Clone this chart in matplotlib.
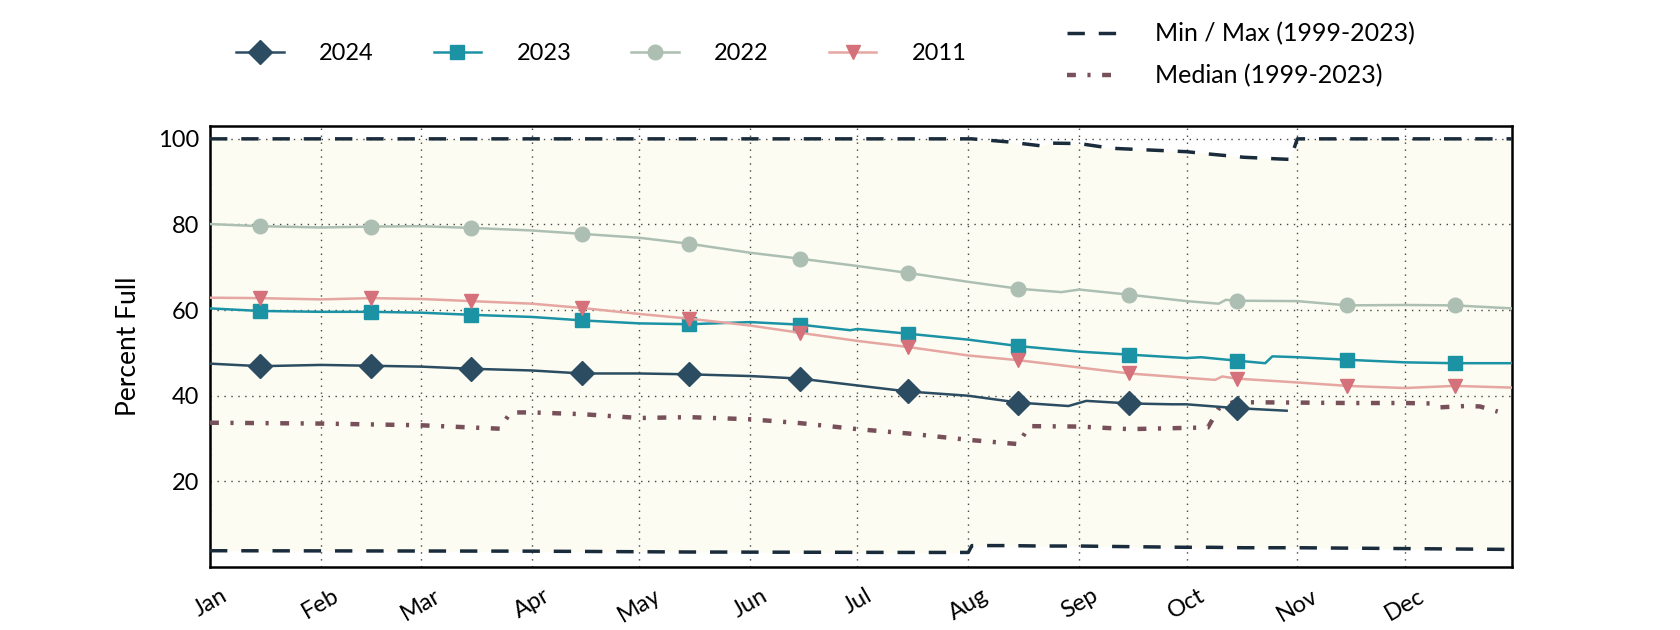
import numpy as np
import pandas as pd
import matplotlib
matplotlib.use('Agg')
import matplotlib.pyplot as plt
import matplotlib.dates as mdates

plt.rcParams['font.family'] = ['Lato', 'DejaVu Sans']

# dates are month-day, plotted on a 365-day calendar year
d2024 = ['01-01', '01-15', '02-01', '02-15', '03-01', '03-15', '04-01', '04-15',
         '05-01', '05-15', '06-01', '06-15', '07-01', '07-15', '08-01', '08-15',
         '08-29', '09-03', '09-15', '09-27', '10-01', '10-15', '10-29']
v2024 = [47.5, 46.9, 47.2, 47.0, 46.8, 46.3, 45.9, 45.2,
         45.2, 45.0, 44.6, 44.0, 42.4, 41.0, 40.0, 38.4,
         37.6, 38.8, 38.2, 38.0, 38.0, 37.1, 36.5]

d2023 = ['01-01', '01-15', '02-01', '02-15', '03-01', '03-15', '04-01', '04-15',
         '05-01', '05-15', '06-01', '06-15', '06-29', '07-01', '07-15', '08-01',
         '08-15', '09-01', '09-15', '10-01', '10-05', '10-15', '10-23', '10-25',
         '11-01', '11-15', '12-01', '12-15', '12-31']
v2023 = [60.4, 59.8, 59.6, 59.6, 59.4, 58.9, 58.4, 57.6,
         56.9, 56.7, 57.2, 56.6, 55.3, 55.6, 54.5, 53.1,
         51.6, 50.3, 49.6, 48.8, 49.0, 48.2, 47.6, 49.2,
         49.0, 48.4, 47.8, 47.6, 47.6]

d2022 = ['01-01', '01-15', '02-01', '02-15', '03-01', '03-15', '04-01', '04-15',
         '05-01', '05-15', '06-01', '06-15', '07-01', '07-15', '08-01', '08-15',
         '08-27', '09-01', '09-15', '10-01', '10-10', '10-12', '10-15', '11-01',
         '11-15', '12-01', '12-15', '12-31']
v2022 = [80.1, 79.6, 79.3, 79.5, 79.6, 79.2, 78.6, 77.8,
         76.9, 75.5, 73.4, 72.0, 70.3, 68.7, 66.6, 65.0,
         64.2, 64.8, 63.6, 62.1, 61.5, 62.4, 62.2, 62.1,
         61.1, 61.2, 61.1, 60.4]

d2011 = ['01-01', '01-15', '02-01', '02-15', '03-01', '03-15', '04-01', '04-15',
         '05-01', '05-15', '06-01', '06-15', '07-01', '07-15', '08-01', '08-15',
         '09-01', '09-15', '10-01', '10-09', '10-11', '10-15', '11-01', '11-15',
         '12-01', '12-15', '12-31']
v2011 = [62.9, 62.8, 62.5, 62.8, 62.6, 62.1, 61.5, 60.5,
         59.1, 58.0, 56.4, 54.7, 52.8, 51.4, 49.4, 48.3,
         46.6, 45.2, 44.2, 43.7, 44.5, 44.0, 43.1, 42.3,
         41.8, 42.3, 41.9]

d_med = ['01-01', '02-01', '03-01', '03-23', '03-26', '04-01', '04-15', '05-01',
         '05-15', '06-01', '06-15', '07-01', '07-15', '08-01', '08-15', '08-18',
         '09-01', '09-15', '10-07', '10-10', '10-14', '11-01', '11-15', '12-01',
         '12-08', '12-11', '12-18', '12-22', '12-27']
v_med = [33.7, 33.5, 33.1, 32.3, 36.1, 36.1, 35.7, 34.8,
         35.0, 34.5, 33.6, 32.2, 31.2, 29.7, 28.7, 32.9,
         32.8, 32.2, 32.6, 37.0, 38.5, 38.4, 38.3, 38.3,
         38.2, 37.3, 37.6, 37.5, 36.3]

d_mm = ['01-01', '04-01', '05-15', '07-15', '08-01', '08-02', '08-12', '08-21',
        '08-24', '09-01', '09-10', '10-01', '10-08', '10-17', '10-27', '10-30',
        '11-01', '12-01', '12-31']
v_max = [100, 100, 100, 100, 100, 100, 99.3, 98.4,
         99.0, 98.9, 97.8, 97.0, 96.4, 95.7, 95.3, 95.2,
         100, 100, 100]
v_min = [3.8, 3.7, 3.5, 3.4, 3.4, 5.0, 5.0, 4.9,
         4.9, 4.9, 4.8, 4.6, 4.6, 4.5, 4.5, 4.5,
         4.5, 4.3, 4.1]


def to_dates(md):
    return pd.to_datetime(['2023-' + s for s in md])


def mid_month(dates):
    return [i for i, d in enumerate(dates) if d.day == 15]


fig = plt.figure(figsize=(16.8, 6.3), dpi=100)
ax = fig.add_axes([0.125, 0.1, 0.775, 0.7])

x_mm = to_dates(d_mm)
ax.fill_between(x_mm, v_min, v_max, color='#fcfcf2', zorder=0, lw=0)
mm_line, = ax.plot(x_mm, v_max, color='#1a2b3c', lw=2.5, dashes=(5, 4), zorder=3)
ax.plot(x_mm, v_min, color='#1a2b3c', lw=2.5, dashes=(5, 4), zorder=3)

med_line, = ax.plot(to_dates(d_med), v_med, color='#77505a', lw=3.2,
                    linestyle=(0, (2.0, 2.6, 0.7, 2.6)), zorder=3)

series = [
    (d2024, v2024, '2024', '#2c4c62', '#2c4c62', 'D', 12),
    (d2023, v2023, '2023', '#1b93a5', '#1b93a5', 's', 10),
    (d2022, v2022, '2022', '#adbfb3', '#adbfb3', 'o', 10.5),
    (d2011, v2011, '2011', '#e6a6a1', '#d4717a', 'v', 10.5),
]
handles = []
for d, v, lab, lc, mc, mk, ms in series:
    x = to_dates(d)
    h, = ax.plot(x, v, color=lc, lw=1.8, marker=mk, markersize=ms,
                 markerfacecolor=mc, markeredgecolor=mc,
                 markevery=mid_month(x), label=lab, zorder=4)
    handles.append(h)

ax.set_xlim(pd.Timestamp('2023-01-01'), pd.Timestamp('2023-12-31'))
ax.set_ylim(0, 103)
ax.set_yticks([20, 40, 60, 80, 100])
ax.xaxis.set_major_locator(mdates.MonthLocator())
ax.xaxis.set_major_formatter(mdates.DateFormatter('%b'))
ax.tick_params(length=0, labelsize=17, pad=8)
ax.tick_params(axis='x', pad=13)
for t in ax.get_xticklabels():
    t.set_rotation(30)
    t.set_ha('center')
ax.grid(True, linestyle=(0, (1, 4)), color='#444444', lw=1)
ax.set_ylabel('Percent Full', fontsize=19, labelpad=12)
for s in ax.spines.values():
    s.set_linewidth(1.8)

fig.legend(handles=handles, loc='center left', bbox_to_anchor=(0.128, 0.915),
           ncol=4, frameon=False, fontsize=17, handlelength=2.0,
           handletextpad=1.5, columnspacing=2.55)
fig.legend([mm_line, med_line], ['Min / Max (1999-2023)', 'Median (1999-2023)'],
           loc='center left', bbox_to_anchor=(0.622, 0.913), frameon=False,
           fontsize=18, handlelength=2.2, handletextpad=1.3, labelspacing=0.75)

fig.savefig('out.png', dpi=100)
